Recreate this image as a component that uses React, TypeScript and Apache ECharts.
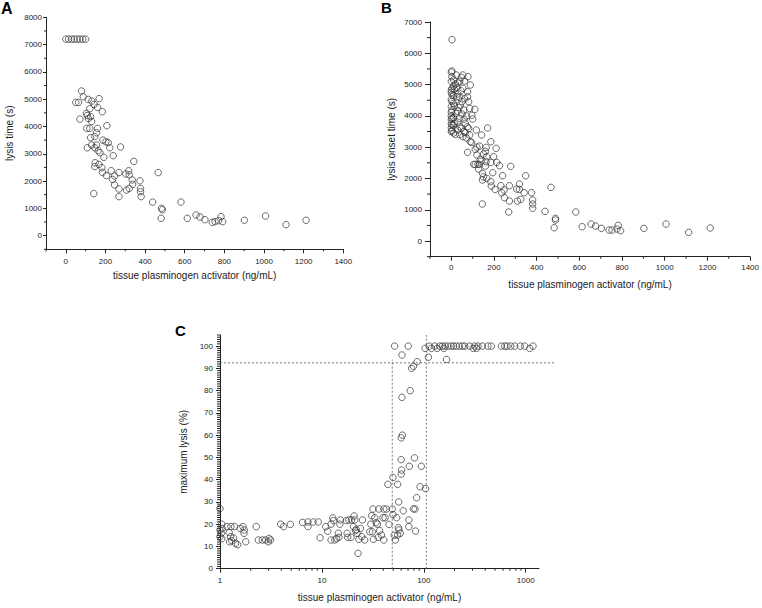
import React, { useEffect, useRef } from 'react';
import * as echarts from 'echarts';

// Panel A: tissue plasminogen activator (ng/mL) vs lysis time (s)
const aPoints: [number, number][] = [
  [0, 7200], [14, 7200], [28, 7200], [42, 7200], [57, 7200], [71, 7200], [86, 7200], [100, 7200],
  [79, 5300], [88, 5090], [50, 4880], [64, 4880], [113, 4990], [131, 4930], [168, 5020], [143, 4810],
  [121, 4650], [160, 4700], [184, 4540], [104, 4480], [108, 4400], [114, 4290], [125, 4360], [130, 4180],
  [71, 4270], [106, 3930], [121, 3930], [160, 3930], [207, 4030], [155, 3770], [146, 3630], [125, 3590],
  [187, 3500], [202, 3440], [214, 3410], [222, 3220], [108, 3220], [130, 3320], [155, 3320], [146, 3220],
  [163, 3110], [172, 3040], [192, 2870], [239, 2930], [276, 3250], [343, 2720], [148, 2670], [167, 2610],
  [146, 2530], [182, 2490], [185, 2320], [205, 2200], [229, 2380], [236, 2060], [246, 2190], [268, 2310],
  [246, 1860], [268, 1710], [268, 1430], [303, 2260], [317, 2380], [320, 2230], [335, 2040], [337, 1880],
  [320, 1730], [306, 1670], [374, 2010], [377, 1730], [377, 1610], [380, 1430], [466, 2310], [438, 1230],
  [483, 1000], [487, 950], [481, 635], [581, 1230], [613, 635], [657, 757], [677, 684], [702, 586],
  [739, 488], [753, 513], [771, 550], [783, 696], [791, 513], [901, 562], [1008, 720], [1111, 403],
  [1212, 562], [141, 1540],
];

// Panel B: tissue plasminogen activator (ng/mL) vs lysis onset time (s)
const bPoints: [number, number][] = [
  [3, 6435], [3, 5434], [2, 5253], [23, 5306], [47, 5231], [54, 5306], [78, 5253], [89, 4986],
  [62, 5114], [39, 5103], [19, 5018], [26, 4911], [14, 4848], [3, 4880], [54, 4880], [76, 4773],
  [3, 4667], [26, 4613], [39, 4592], [76, 4613], [81, 4453], [50, 4453], [3, 4453], [14, 4315],
  [36, 4272], [86, 4240], [110, 4208], [58, 4187], [3, 4187], [20, 4081], [50, 4059], [96, 4017],
  [3, 3921], [39, 3921], [14, 3761], [65, 3761], [3, 3708], [47, 3601], [81, 3601], [117, 3548],
  [170, 3612], [3, 3527], [19, 3409], [65, 3463], [86, 3388], [54, 3335], [142, 3388], [89, 3175],
  [185, 3175], [132, 3036], [163, 2994], [210, 2962], [76, 2834], [112, 2930], [120, 2749], [151, 2781],
  [159, 2866], [166, 2696], [198, 2696], [135, 2610], [163, 2536], [185, 2514], [213, 2514], [226, 2408],
  [278, 2387], [112, 2450], [131, 2450], [160, 2397], [146, 2163], [194, 2184], [240, 2088], [348, 2088],
  [146, 1950], [166, 2003], [185, 1896], [187, 1758], [205, 1651], [232, 1769], [272, 1769], [236, 1545],
  [247, 1630], [249, 1385], [272, 1279], [310, 1279], [306, 1662], [319, 1822], [319, 1651], [325, 1332],
  [341, 1545], [376, 1545], [381, 1310], [381, 1183], [381, 1044], [269, 927], [145, 1183], [439, 948],
  [467, 1715], [488, 724], [488, 671], [482, 426], [583, 927], [613, 458], [655, 543], [676, 479],
  [703, 405], [739, 352], [753, 352], [776, 384], [782, 501], [793, 330], [902, 405], [1006, 543],
  [1112, 277], [1213, 416],
  [0, 3500], [0, 3620], [0, 3750], [0, 3880], [0, 4000], [0, 4120], [0, 4300], [0, 4520], [0, 4750],
  [0, 4820], [0, 5100], [0, 5400], [10, 3450], [10, 3700], [10, 3950], [10, 4400], [10, 4650],
  [10, 4950], [10, 5150], [30, 3550], [30, 3800], [30, 4150], [30, 4700], [30, 5050], [40, 3400],
  [40, 3650], [42, 4350], [45, 4800], [60, 3500], [60, 3900], [62, 4550], [70, 3300], [72, 4000],
  [75, 3650], [95, 3150], [100, 3900], [105, 2450], [120, 3000], [125, 2450], [128, 2300], [140, 2550],
  [150, 2050],
];

// Panel C: tissue plasminogen activator (ng/mL, log) vs maximum lysis (%)
const cPoints: [number, number][] = [
  [1.0, 27], [1.04, 20], [1.0, 17.4], [1.03, 15.9], [1.0, 14.4], [1.04, 13.5], [1.05, 18],
  [1.17, 18.9], [1.23, 16.3], [1.28, 18.9], [1.39, 18.9], [1.27, 14.4], [1.3, 12.6], [1.36, 13.8],
  [1.24, 12.1], [1.42, 11.4], [1.49, 10.8], [1.58, 18.1], [1.68, 18.9], [1.73, 17.4], [1.72, 15.9],
  [1.79, 12.1], [2.27, 18.9], [2.38, 12.9], [2.6, 12.9], [2.81, 12.9], [2.98, 12.1], [3.14, 12.9],
  [3.03, 13.6], [3.94, 20], [4.21, 18.9], [4.9, 19.9], [6.47, 20.8], [7.3, 21], [8.2, 21], [9.2, 21],
  [7.3, 18.9], [9.6, 13.9], [10.9, 18.9], [11.4, 16.8], [12.3, 20], [13.0, 21.6], [12.8, 22.8],
  [12.3, 12.9], [13.4, 12.9], [13.9, 13.6], [14.5, 15.9], [14.7, 14.1], [15.2, 21.9], [15.0, 20],
  [17.4, 21.6], [18.4, 21.9], [19.5, 21.9], [20.7, 23.7], [21.0, 21.9], [17.7, 15.9], [17.9, 14.1],
  [19.3, 14.1], [20.4, 18.9], [21.4, 17.1], [21.7, 17.7], [22.1, 15.9], [22.6, 6.9], [23.1, 13.2],
  [24.6, 14.4], [23.9, 18.1], [25.0, 21.9], [26.3, 12.9], [29.5, 16.6], [30.2, 20], [30.8, 23.8],
  [31.7, 26.8], [31.3, 16.6], [32.0, 13.2], [33.0, 22.9], [34.1, 20.7], [35.1, 20], [35.6, 14.1],
  [36.2, 26.8], [40.5, 26.8], [42.9, 26.8], [36.8, 17.1], [38.4, 15.1], [39.8, 22.9], [41.7, 22.9],
  [40.5, 12.9], [44.4, 37.9], [45.5, 19.9], [49.0, 26.8], [49.8, 41], [49.8, 24.3], [51.3, 15],
  [52.5, 12.9], [51.7, 100], [54.2, 22.9], [55.3, 37.9], [56.3, 18.4], [57, 17.4], [56.7, 30],
  [55.3, 15.1], [58.8, 15.9], [60.5, 44.3], [60, 42.5], [60, 49], [60, 58.8], [61.6, 60], [61, 77],
  [61, 96], [62.8, 26], [70.3, 100], [71.3, 21.9], [71.3, 18.9], [72.1, 46], [73.5, 80], [75.9, 90],
  [79.1, 90.9], [79.1, 26.9], [81, 49.8], [82, 26.8], [83, 16.9], [85, 31.9], [86, 93], [92, 36.8],
  [94.5, 46], [104, 36], [103, 99], [111, 95], [113, 100], [119, 99], [135, 99], [157, 99], [167, 94],
  [128, 100], [143, 100], [152, 100], [161, 100], [173, 100], [186, 100], [196, 100], [208, 100],
  [223, 100], [239, 100], [252, 100], [282, 100], [315, 100], [340, 100], [375, 100], [426, 100],
  [460, 100], [577, 100], [622, 100], [655, 100], [712, 100], [780, 100], [885, 100], [977, 100],
  [1094, 99], [1180, 100], [305, 99], [330, 99],
];

// Axis tick values
const abXLabels = [0, 200, 400, 600, 800, 1000, 1200, 1400];
const abXMinor = [-100, 100, 300, 500, 700, 900, 1100, 1300];
const aYLabels = [0, 1000, 2000, 3000, 4000, 5000, 6000, 7000, 8000];
const aYMinor = [-500, 500, 1500, 2500, 3500, 4500, 5500, 6500, 7500];
const bYLabels = [0, 1000, 2000, 3000, 4000, 5000, 6000, 7000];
const bYMinor = [-500, 500, 1500, 2500, 3500, 4500, 5500, 6500];
const cXLabels = [1, 10, 100, 1000];
const cXMinor = [2, 3, 4, 5, 6, 7, 8, 9, 20, 30, 40, 50, 60, 70, 80, 90, 200, 300, 400, 500, 600, 700, 800, 900];
const cYLabels = [0, 10, 20, 30, 40, 50, 60, 70, 80, 90, 100];
const cYMinor: number[] = [];
for (let i = 1; i <= 105; i++) if (i % 10 !== 0) cYMinor.push(i);

// Dotted reference lines in panel C: [x1, y1, x2, y2]
const cRefLines: [number, number, number, number][] = [
  [1, 92.5, 1970, 92.5],
  [49, 0, 49, 94],
  [106, 0, 106, 105],
];

const FONT = "Arial, 'Liberation Sans', Helvetica, sans-serif";
const INK = '#222';

if (typeof document !== 'undefined') document.body.style.margin = '0';

function mainAxis(o: any) {
  return {
    type: o.type || 'value',
    gridIndex: o.grid,
    min: o.min,
    max: o.max,
    position: o.position,
    axisLine: { show: true, onZero: false, lineStyle: { color: INK, width: 1 } },
    axisTick: { show: true, inside: false, length: o.tickLen, customValues: o.ticks, lineStyle: { color: INK, width: 1 } },
    axisLabel: {
      show: true,
      customValues: o.ticks,
      formatter: (v: number) => String(v),
      fontSize: 8,
      color: INK,
      margin: o.margin,
      fontFamily: FONT,
    },
    splitLine: { show: false },
    name: o.name,
    nameLocation: 'middle',
    nameGap: o.nameGap,
    nameTextStyle: { fontSize: 10, color: INK, fontFamily: FONT },
  };
}

// minor ticks drawn through the axes' own scales
function minorTicks(grid: number, values: number[], dir: 'x' | 'y', anchor: number, len: number) {
  return {
    type: 'custom',
    xAxisIndex: grid,
    yAxisIndex: grid,
    silent: true,
    clip: false,
    data: values.map((v) => (dir === 'x' ? [v, anchor] : [anchor, v])),
    renderItem: (_p: any, api: any) => {
      const p = api.coord([api.value(0), api.value(1)]);
      if (dir === 'x') {
        return { type: 'line', shape: { x1: p[0], y1: p[1], x2: p[0], y2: p[1] + len }, style: { stroke: INK, lineWidth: 1 } };
      }
      return { type: 'line', shape: { x1: p[0], y1: p[1], x2: p[0] - len, y2: p[1] }, style: { stroke: INK, lineWidth: 1 } };
    },
  };
}

const circle = {
  symbol: 'circle',
  symbolSize: 6.5,
  itemStyle: { color: 'rgba(255,255,255,0)', borderColor: '#333', borderWidth: 0.9 },
};

export default function App() {
  const ref = useRef<HTMLDivElement>(null);
  useEffect(() => {
    if (!ref.current) return;
    const chart = echarts.init(ref.current, null, { renderer: 'svg' });
    const xTitle = 'tissue plasminogen activator (ng/mL)';
    chart.setOption({
      animation: false,
      backgroundColor: '#ffffff',
      textStyle: { fontFamily: FONT },
      grid: [
        { left: 46, top: 17.3, width: 297.3, height: 232 },
        { left: 430, top: 22, width: 321, height: 234.7 },
        { left: 220, top: 335, width: 319, height: 233.7 },
      ],
      xAxis: [
        mainAxis({ grid: 0, min: -100, max: 1400, position: 'bottom', tickLen: 4, ticks: abXLabels, margin: 8, name: xTitle, nameGap: 21 }),
        mainAxis({ grid: 1, min: -100, max: 1400, position: 'bottom', tickLen: 4, ticks: abXLabels, margin: 7, name: xTitle, nameGap: 23 }),
        mainAxis({ type: 'log', grid: 2, min: 1, max: 1350, position: 'bottom', tickLen: 4, ticks: cXLabels, margin: 8, name: xTitle, nameGap: 24 }),
      ],
      yAxis: [
        mainAxis({ grid: 0, min: -500, max: 8000, position: 'left', tickLen: 3, ticks: aYLabels, margin: 4, name: 'lysis time (s)', nameGap: 32 }),
        mainAxis({ grid: 1, min: -500, max: 7000, position: 'left', tickLen: 5, ticks: bYLabels, margin: 8, name: 'lysis onset time (s)', nameGap: 34 }),
        mainAxis({ grid: 2, min: 0, max: 105, position: 'left', tickLen: 4, ticks: cYLabels, margin: 7, name: 'maximum lysis (%)', nameGap: 32 }),
      ],
      series: [
        minorTicks(0, abXMinor, 'x', -500, 2),
        minorTicks(0, aYMinor, 'y', -100, 2),
        minorTicks(1, abXMinor, 'x', -500, 2),
        minorTicks(1, bYMinor, 'y', -100, 3),
        minorTicks(2, cXMinor, 'x', 0, 2),
        minorTicks(2, cYMinor, 'y', 1, 3),
        { type: 'scatter', xAxisIndex: 0, yAxisIndex: 0, data: aPoints, silent: true, ...circle },
        { type: 'scatter', xAxisIndex: 1, yAxisIndex: 1, data: bPoints, silent: true, ...circle },
        { type: 'scatter', xAxisIndex: 2, yAxisIndex: 2, data: cPoints, silent: true, ...circle },
        {
          type: 'custom',
          xAxisIndex: 2,
          yAxisIndex: 2,
          silent: true,
          clip: false,
          data: cRefLines,
          encode: { x: [0, 2], y: [1, 3] },
          renderItem: (_p: any, api: any) => {
            const a = api.coord([api.value(0), api.value(1)]);
            const b = api.coord([api.value(2), api.value(3)]);
            return {
              type: 'line',
              shape: { x1: a[0], y1: a[1], x2: b[0], y2: b[1] },
              style: { stroke: '#555', lineWidth: 0.8, lineDash: [2, 2] },
            };
          },
        },
      ],
      graphic: [
        { type: 'text', left: 1, top: 0, style: { text: 'A', font: `bold 16px ${FONT}`, fill: '#000' } },
        { type: 'text', left: 381, top: 0, style: { text: 'B', font: `bold 15px ${FONT}`, fill: '#000' } },
        { type: 'text', left: 175, top: 323, style: { text: 'C', font: `bold 15px ${FONT}`, fill: '#000' } },
      ],
    });
    return () => chart.dispose();
  }, []);
  return (
    <div style={{ position: 'relative', width: 762, height: 608 }}>
      <div ref={ref} style={{ position: 'absolute', left: 0, top: 0, width: 762, height: 608 }} />
    </div>
  );
}
